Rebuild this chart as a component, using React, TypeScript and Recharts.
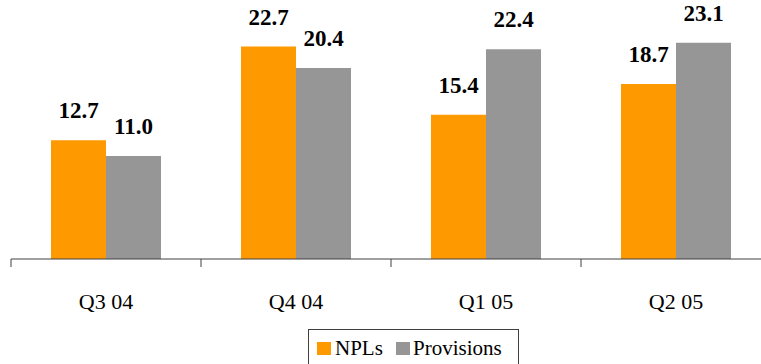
import { Bar, BarChart, LabelList, XAxis, YAxis } from "recharts";

const quarters = ["Q3 04", "Q4 04", "Q1 05", "Q2 05"];
const npls = [12.7, 22.7, 15.4, 18.7];
const provisions = [11.0, 20.4, 22.4, 23.1];

const ORANGE = "#FF9900";
const GREY = "#969696";
const AXIS = "#404040";
const FONT = "Liberation Serif, Times New Roman, Times, DejaVu Serif, serif";
const textStyle = { fontFamily: FONT };

const chartData = quarters.map((quarter, i) => ({
  quarter,
  npls: npls[i],
  provisions: provisions[i]
}));

// category label centred in the band, tick mark on the band's left edge
function QuarterTick(props: any) {
  const { x, y, payload } = props;
  const half = payload?.offset ?? 95;
  return (
    <g>
      <line x1={x - half} x2={x - half} y1={y} y2={y + 8} stroke={AXIS} strokeWidth={1} />
      <text x={x} y={y + 50} textAnchor="middle" style={textStyle} fontSize={22} fill="#000">
        {payload.value}
      </text>
    </g>
  );
}

function ValueLabel(props: any) {
  const { x, y, width, value } = props;
  return (
    <text
      x={x + width / 2}
      y={y - 22}
      textAnchor="middle"
      style={textStyle}
      fontWeight="bold"
      fontSize={23}
      fill="#000"
    >
      {Number(value).toFixed(1)}
    </text>
  );
}

function SeriesLegend() {
  return (
    <svg
      width={230}
      height={44}
      style={{ position: "absolute", left: 300, top: 320, fontFamily: FONT }}
      fontSize={21}
    >
      <rect x={8.5} y={9.5} width={210} height={40} fill="#fff" stroke={AXIS} strokeWidth={1} />
      <rect x={17} y={22} width={14} height={13} fill={ORANGE} />
      <text x={35} y={35} fill="#000" style={textStyle}>NPLs</text>
      <rect x={96} y={22} width={14} height={13} fill={GREY} />
      <text x={113} y={35} fill="#000" style={textStyle}>Provisions</text>
    </svg>
  );
}

export default function App() {
  return (
    <div
      style={{
        position: "absolute",
        left: 0,
        top: 0,
        width: 761,
        height: 364,
        overflow: "hidden",
        background: "#fff",
        fontFamily: FONT
      }}
    >
      <BarChart
        width={780}
        height={364}
        data={chartData}
        margin={{ top: 25, right: 9, bottom: 45, left: 11 }}
        barGap={0}
        barSize={55}
      >
        <XAxis
          dataKey="quarter"
          height={60}
          interval={0}
          tickSize={0}
          tickMargin={0}
          tickLine={false}
          axisLine={{ stroke: AXIS, strokeWidth: 1 }}
          tick={<QuarterTick />}
        />
        <YAxis hide domain={[0, 25]} />
        <Bar dataKey="npls" name="NPLs" fill={ORANGE} isAnimationActive={false}>
          <LabelList dataKey="npls" content={<ValueLabel />} />
        </Bar>
        <Bar dataKey="provisions" name="Provisions" fill={GREY} isAnimationActive={false}>
          <LabelList dataKey="provisions" content={<ValueLabel />} />
        </Bar>
      </BarChart>
      <SeriesLegend />
    </div>
  );
}
